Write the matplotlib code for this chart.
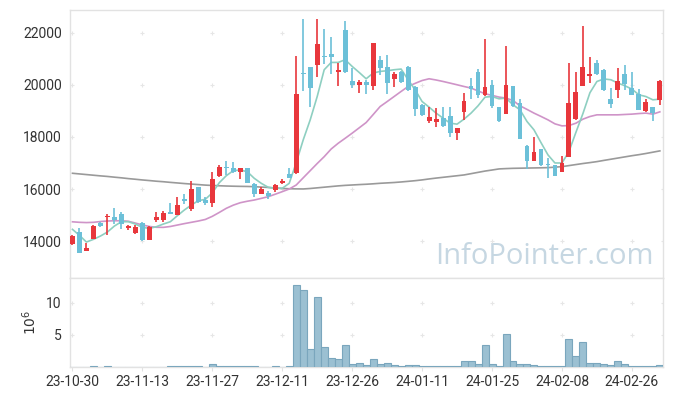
import numpy as np
import matplotlib
matplotlib.use("Agg")
import matplotlib.pyplot as plt

plt.rcParams['font.family'] = ['Roboto', 'DejaVu Sans']

# ----------------------------------------------------------------------
# DATA (one entry per trading day)
# ----------------------------------------------------------------------
opens = [13885, 14335, 13630, 14090, 14700, 14935, 14935, 15030, 14500, 14295,
         14700, 14040, 14800, 14810, 15115, 15000, 15600, 15220, 16065, 15580,
         15470, 16500, 16860, 16820, 16665, 16795, 16180, 15820, 15860, 15960,
         16245, 16577, 16600, 20470, 20690, 20780, 21115, 21205, 20480, 22120,
         20160, 19980, 20130, 19940, 20970, 20690, 20240, 20480, 20690, 19920,
         19240, 18630, 18590, 18720, 18810, 18150, 18955, 19970, 20480, 19595,
         20005, 19150, 18900, 19970, 19300, 17670, 17090, 17530, 16960, 16915,
         16670, 17245, 18700, 19940, 20325, 20850, 20585, 19470, 19790, 20430,
         19880, 19660, 18980, 19160, 19420]
highs = [14230, 14490, 13940, 14620, 14750, 15030, 15260, 15120, 14620, 14600,
         14750, 14570, 15100, 15140, 15450, 15680, 15800, 16300, 16080, 15705,
         16650, 16910, 17065, 17030, 16800, 16800, 16245, 16080, 15920, 16190,
         16370, 16800, 21110, 22530, 20700, 22530, 22145, 21835, 20840, 22460,
         20650, 20200, 20200, 21610, 21100, 21160, 20480, 20520, 20720, 19940,
         19280, 19150, 19110, 19150, 19150, 18360, 19690, 20260, 20610, 21765,
         20200, 19150, 21490, 19970, 19450, 17700, 17990, 17530, 17180, 16920,
         17270, 20850, 20510, 22280, 21070, 20940, 20600, 19880, 20670, 20775,
         20480, 19840, 19455, 19160, 20200]
lows = [13850, 13525, 13620, 14060, 14540, 14230, 14650, 14450, 14420, 14270,
        14000, 14030, 14740, 14740, 15030, 14990, 15410, 15160, 15450, 15385,
        15300, 16470, 16540, 16600, 16380, 16220, 15680, 15800, 15600, 15900,
        16200, 16420, 16580, 19780, 19160, 20300, 20800, 20425, 19940, 20470,
        19880, 19690, 19650, 19810, 20390, 19660, 19920, 20070, 19750, 18790,
        18790, 18530, 18400, 18400, 17990, 17890, 18660, 19455, 19490, 19590,
        19110, 18590, 18890, 19150, 17930, 16760, 17080, 16900, 16410, 16510,
        16660, 17240, 18660, 19940, 20070, 20400, 19780, 19110, 19480, 19815,
        19610, 19050, 18970, 18630, 19225]
closes = [14190, 13550, 13730, 14580, 14580, 14975, 14810, 14650, 14590, 14525,
          14040, 14550, 14910, 15090, 15040, 15385, 15550, 15990, 15500, 15470,
          16370, 16846, 16820, 16655, 16795, 16245, 15800, 16010, 15745, 16150,
          16320, 16435, 19650, 20420, 19900, 21590, 21075, 21090, 20585, 20480,
          19980, 20130, 19980, 21600, 20670, 20090, 20430, 20130, 19810, 19080,
          18850, 18750, 18700, 18440, 18150, 18350, 19365, 19840, 19620, 19920,
          19200, 18595, 20005, 19200, 17940, 17070, 17430, 16910, 16940, 16515,
          17005, 19310, 19740, 20700, 20430, 20405, 19790, 19285, 20160, 20055,
          19620, 19055, 19325, 18915, 20160]

# volume, in millions of shares
volumes = [0.03, 0.03, 0.03, 0.12, 0.03, 0.12, 0.03, 0.03, 0.03, 0.03,
           0.03, 0.03, 0.03, 0.03, 0.12, 0.12, 0.12, 0.12, 0.12, 0.03,
           0.43, 0.22, 0.22, 0.14, 0.14, 0.14, 0.14, 0.03, 0.03, 0.12,
           0.03, 0.12, 12.73, 12.05, 2.74, 10.94, 3.05, 1.47, 1.31, 3.37,
           0.53, 0.69, 0.37, 1.31, 0.53, 0.69, 0.37, 0.21, 0.37, 0.37,
           0.13, 0.21, 0.08, 0.21, 0.21, 0.21, 0.90, 0.90, 0.53, 3.37,
           0.53, 0.21, 5.10, 0.90, 0.53, 0.53, 0.37, 0.21, 0.21, 0.21,
           0.21, 4.31, 1.79, 3.84, 0.69, 0.69, 0.53, 0.37, 0.90, 0.53,
           0.21, 0.21, 0.08, 0.21, 0.37]

# moving averages as drawn on the chart
ma5 = [14450, 14219, 13962, 14065, 14192, 14346, 14577, 14743, 14743, 14654,
       14526, 14487, 14551, 14654, 14743, 14974, 15193, 15385, 15550, 15604,
       15850, 16243, 16512, 16705, 16731, 16666, 16411, 16219, 16065, 16027,
       16027, 16219, 17012, 17888, 18658, 19555, 20584, 20865, 20865, 20969,
       20712, 20481, 20237, 20456, 20520, 20545, 20584, 20610, 20199, 19814,
       19363, 19147, 18917, 18724, 18531, 18493, 18686, 18917, 19198, 19532,
       19555, 19467, 19494, 19236, 19044, 18595, 18274, 17785, 17311, 17000,
       17000, 17438, 18180, 18900, 19700, 20133, 20230, 20199, 20071, 19968,
       19841, 19621, 19555, 19428, 19455]
ma20 = [14740, 14720, 14710, 14720, 14750, 14770, 14780, 14780, 14760, 14690,
        14620, 14560, 14530, 14526, 14560, 14615, 14670, 14720, 14770, 14830,
        14950, 15100, 15258, 15380, 15473, 15530, 15577, 15640, 15705, 15800,
        15898, 16000, 16154, 16430, 16705, 16980, 17243, 17538, 17758, 17950,
        18146, 18350, 18555, 18860, 19170, 19360, 19555, 19750, 19940, 20060,
        20170, 20237, 20190, 20133, 20070, 20006, 19940, 19879, 19770, 19660,
        19600, 19533, 19494, 19401, 19198, 19060, 18917, 18790, 18658, 18504,
        18427, 18439, 18530, 18685, 18786, 18851, 18851, 18851, 18851, 18865,
        18878, 18900, 18917, 18878, 18966]
ma_long = [16605, 16580, 16555, 16530, 16505, 16483, 16455, 16430, 16400, 16375,
           16348, 16325, 16300, 16280, 16255, 16233, 16210, 16190, 16170, 16150,
           16137, 16125, 16115, 16108, 16102, 16098, 16090, 16075, 16060, 16040,
           16021, 16010, 16005, 16002, 16020, 16045, 16070, 16095, 16120, 16140,
           16155, 16170, 16183, 16200, 16220, 16235, 16250, 16271, 16295, 16320,
           16350, 16387, 16420, 16450, 16480, 16510, 16541, 16590, 16640, 16690,
           16730, 16772, 16785, 16795, 16800, 16805, 16810, 16815, 16822, 16840,
           16860, 16900, 16940, 16980, 17015, 17053, 17100, 17145, 17190, 17235,
           17280, 17320, 17365, 17415, 17465]

tick_idx = [0, 10, 20, 30, 40, 50, 60, 70, 80]
tick_labels = ["23-10-30", "23-11-13", "23-11-27", "23-12-11", "23-12-26",
               "24-01-11", "24-01-25", "24-02-08", "24-02-26"]
price_ticks = [14000, 16000, 18000, 20000, 22000]
vol_ticks = [5, 10]

# ----------------------------------------------------------------------
# STYLE
# ----------------------------------------------------------------------
UP = "#e8373c"
DOWN = "#6cc0d8"
C_MA5 = "#8ecfc1"
C_MA20 = "#cf94c8"
C_LONG = "#9a9a9a"
VOL_FILL = "#9bc0d2"
VOL_EDGE = "#7aa6bd"
SPINE = "#e2e2e2"
GRID = "#e6e6e6"
TXT = "#333333"

o = np.array(opens, float)
h = np.array(highs, float)
l = np.array(lows, float)
c = np.array(closes, float)
x = np.arange(len(o))
up = c >= o
col = np.where(up, UP, DOWN)

fig = plt.figure(figsize=(6.73, 3.96), dpi=100)
ax = fig.add_axes([70 / 673, 1 - 278 / 396, 593 / 673, 268 / 396])
axv = fig.add_axes([70 / 673, 1 - 367 / 396, 593 / 673, 89 / 396], sharex=ax)

# moving averages (behind the candles)
ax.plot(x, ma_long, color=C_LONG, lw=1.2, zorder=2)
ax.plot(x, ma20, color=C_MA20, lw=1.2, zorder=2)
ax.plot(x, ma5, color=C_MA5, lw=1.2, zorder=2)

# candles
ax.vlines(x, l, h, colors=col, lw=1.2, zorder=3)
body = np.maximum(np.abs(c - o), 40)
ax.bar(x, body, bottom=np.minimum(o, c), width=0.7, color=col, lw=0, zorder=4)

# volume
axv.bar(x, volumes, width=1.0, color=VOL_FILL, edgecolor=VOL_EDGE, lw=0.8, zorder=3)

# faint "+" grid marks at tick crossings
xlim = (-0.35, 84.45)
gx = tick_idx + [xlim[1]]
for a, yt in [(ax, price_ticks), (axv, vol_ticks)]:
    gxx, gyy = np.meshgrid(gx, yt)
    a.scatter(gxx.ravel(), gyy.ravel(), marker="+", s=10, color=GRID, lw=0.8, zorder=1)

ax.set_xlim(*xlim)
ax.set_ylim(12580, 22880)
axv.set_ylim(0, 13.9)

ax.set_yticks(price_ticks)
ax.set_yticklabels([str(v) for v in price_ticks])
axv.set_yticks(vol_ticks)
axv.set_yticklabels([str(v) for v in vol_ticks])
axv.set_xticks(tick_idx)
axv.set_xticklabels(tick_labels)
ax.tick_params(axis="x", labelbottom=False, length=0)
ax.tick_params(axis="y", length=0, pad=6, labelsize=10, labelcolor=TXT)
axv.tick_params(axis="y", length=0, pad=6, labelsize=10, labelcolor=TXT)
axv.tick_params(axis="x", length=3, color=SPINE, pad=3, labelsize=10, labelcolor=TXT)
axv.set_ylabel(r"$10^6$", fontsize=10, color=TXT, labelpad=5)

for a in (ax, axv):
    for s in a.spines.values():
        s.set_color(SPINE)
        s.set_linewidth(1.0)

ax.text(0.80, 0.082, "InfoPointer.com", transform=ax.transAxes,
        ha="center", va="center", fontsize=21, color="#c6d7e2",
        family=["Open Sans", "DejaVu Sans"], zorder=0)

fig.savefig("out.png", dpi=100)
